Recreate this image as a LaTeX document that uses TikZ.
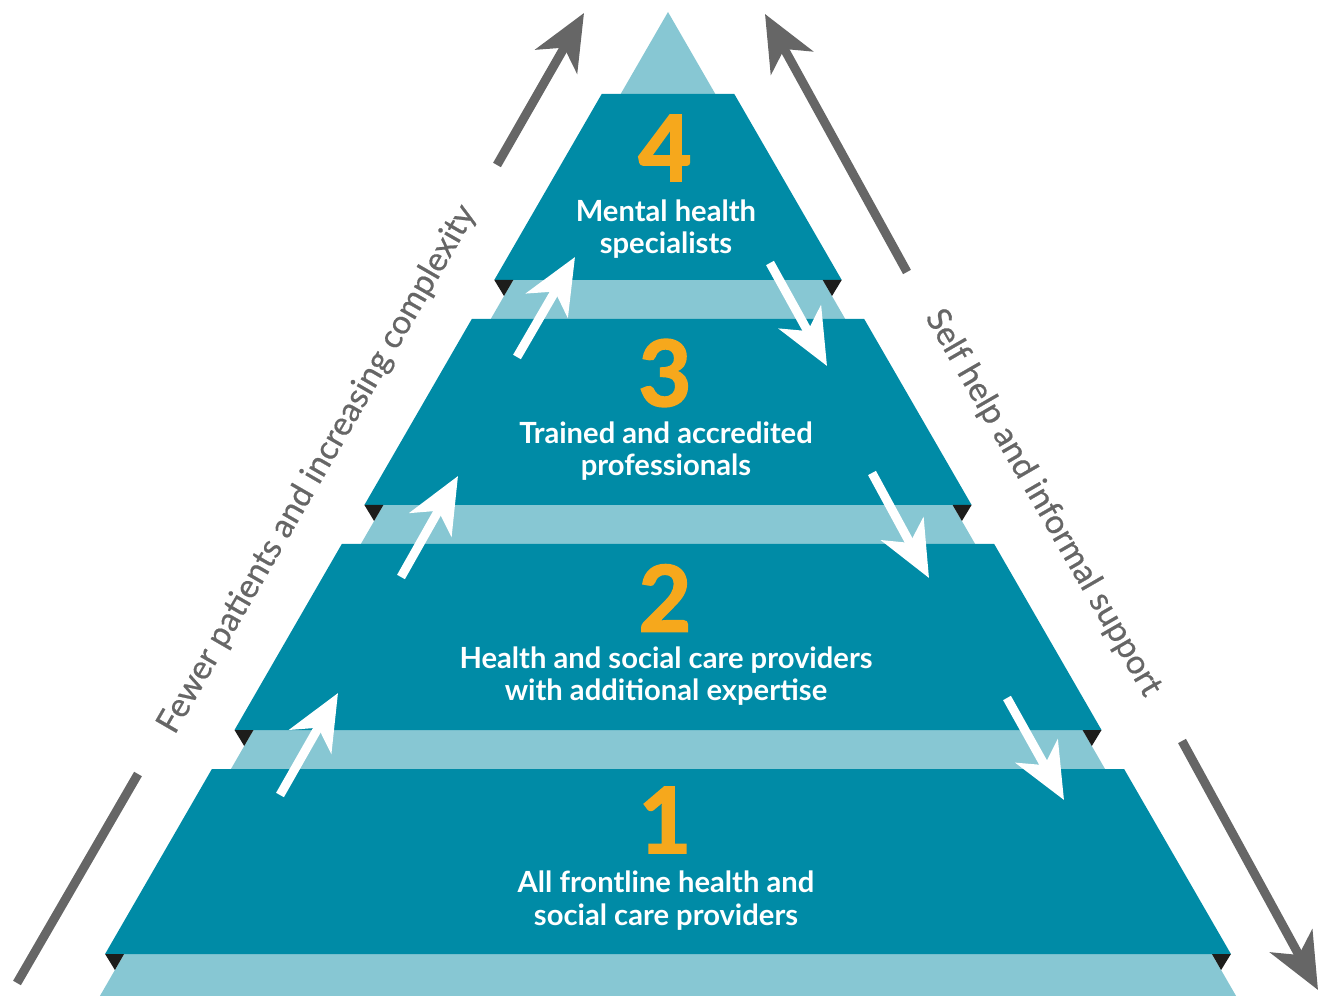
\documentclass[tikz,border=0pt]{standalone}
\usepackage{fontspec}
\setmainfont{Lato}
\newfontfamily\numfont{Lato}[BoldFeatures={FakeBold=2}]
\newfontfamily\sidefont{Lato}[FakeBold=0.6]
\usetikzlibrary{arrows.meta}

\definecolor{tealdark}{HTML}{008BA6}
\definecolor{teallight}{HTML}{87C7D3}
\definecolor{tierorange}{HTML}{F6A81C}
\definecolor{arrowgray}{HTML}{666666}
\definecolor{foldblack}{HTML}{1D1D1B}

\begin{document}
\begin{tikzpicture}  % ------ pyramide des niveaux de soins ------
      [x=0.02cm, y=-0.02cm,
       tier/.style={fill=tealdark},
       fold/.style={fill=foldblack},
       tiernum/.style={text=tierorange, font=\fontsize{52}{52}\numfont\bfseries},
       tiertext/.style={text=white, align=center, anchor=base,
                        font=\fontsize{16.6}{18.5}\selectfont\bfseries},
       sidetext/.style={text=arrowgray, font=\fontsize{19}{19}\sidefont},
       flow/.style={line width=5.1pt,
                    -{Stealth[length=31.7pt,width=27.2pt,inset=9pt]}}]

    \useasboundingbox (0,0) rectangle (1319,996);

    % triangle clair en fond
    \coordinate (S) at (668,12);
    \coordinate (BL) at (99.9,996);
    \coordinate (BR) at (1236.1,996);
    \fill[teallight] (S) -- (BR) -- (BL) -- cycle;

    % les quatre niveaux
    \fill[tier] (601.7,94)  -- (734.3,94)  -- (841.7,280) -- (494.3,280) -- cycle;  % niveau 4
    \fill[tier] (471.8,319) -- (864.2,319) -- (971.6,505) -- (364.4,505) -- cycle;  % niveau 3
    \fill[tier] (341.8,544) -- (994.2,544) -- (1101.5,730) -- (234.5,730) -- cycle; % niveau 2
    \fill[tier] (211.9,769) -- (1124.1,769) -- (1230.9,954) -- (105.1,954) -- cycle; % niveau 1

    % petits plis noirs aux coins
    \fill[fold] (494.3,280) -- (513.3,280) -- (504.0,296) -- cycle;
    \fill[fold] (841.7,280) -- (822.7,280) -- (832.0,296) -- cycle;
    \fill[fold] (364.4,505) -- (383.4,505) -- (374.1,521) -- cycle;
    \fill[fold] (971.6,505) -- (952.6,505) -- (961.9,521) -- cycle;
    \fill[fold] (234.5,730) -- (253.5,730) -- (244.2,746) -- cycle;
    \fill[fold] (1101.5,730) -- (1082.5,730) -- (1091.8,746) -- cycle;
    \fill[fold] (105.1,954) -- (124.1,954) -- (114.9,970) -- cycle;
    \fill[fold] (1230.9,954) -- (1211.9,954) -- (1221.1,970) -- cycle;

    % numeros et textes (ancre = ligne de base de la 2e ligne)
    \node[tiernum] (n4) at (665,148) {4};
    \node[tiertext] (t4) at (666,254) {Mental health\\specialists};
    \node[tiernum] (n3) at (665,373) {3};
    \node[tiertext] (t3) at (666,476) {Trained and accredited\\professionals};
    \node[tiernum] (n2) at (665,598) {2};
    \node[tiertext] (t2) at (666,701) {Health and social care providers\\with additional expertise};
    \node[tiernum] (n1) at (665,820) {1};
    \node[tiertext] (t1) at (666,925) {All frontline health and\\social care providers};

    % fleches blanches : montee a gauche, descente a droite
    \coordinate (u1a) at (280,795);  \coordinate (u1b) at (338,693);
    \coordinate (u2a) at (401,577);  \coordinate (u2b) at (458,476);
    \coordinate (u3a) at (517,357);  \coordinate (u3b) at (575,257);
    \coordinate (d1a) at (770,263);  \coordinate (d1b) at (827,366);
    \coordinate (d2a) at (872,473);  \coordinate (d2b) at (929,578);
    \coordinate (d3a) at (1007,698); \coordinate (d3b) at (1064,800);
    \draw[flow, white] (u1a) -- (u1b);
    \draw[flow, white] (u2a) -- (u2b);
    \draw[flow, white] (u3a) -- (u3b);
    \draw[flow, white] (d1a) -- (d1b);
    \draw[flow, white] (d2a) -- (d2b);
    \draw[flow, white] (d3a) -- (d3b);

    % fleches grises sur les cotes
    \coordinate (g1) at (17,983);   \coordinate (g2) at (138,774);
    \coordinate (g3) at (497,165);  \coordinate (g4) at (584,13);
    \coordinate (h1) at (765,14);   \coordinate (h2) at (907,272);
    \coordinate (h3) at (1182,741); \coordinate (h4) at (1318,990);
    \draw[line width=5.1pt, arrowgray] (g1) -- (g2);
    \draw[flow, arrowgray] (g3) -- (g4);
    \draw[flow, arrowgray] (h2) -- (h1);
    \draw[flow, arrowgray] (h3) -- (h4);
    \node[sidetext, rotate=60] (fewer) at (317.5,469.5) {Fewer patients and increasing complexity};
    \node[sidetext, rotate=-60] (self) at (1043,503) {Self help and informal support};
\end{tikzpicture}
\end{document}
